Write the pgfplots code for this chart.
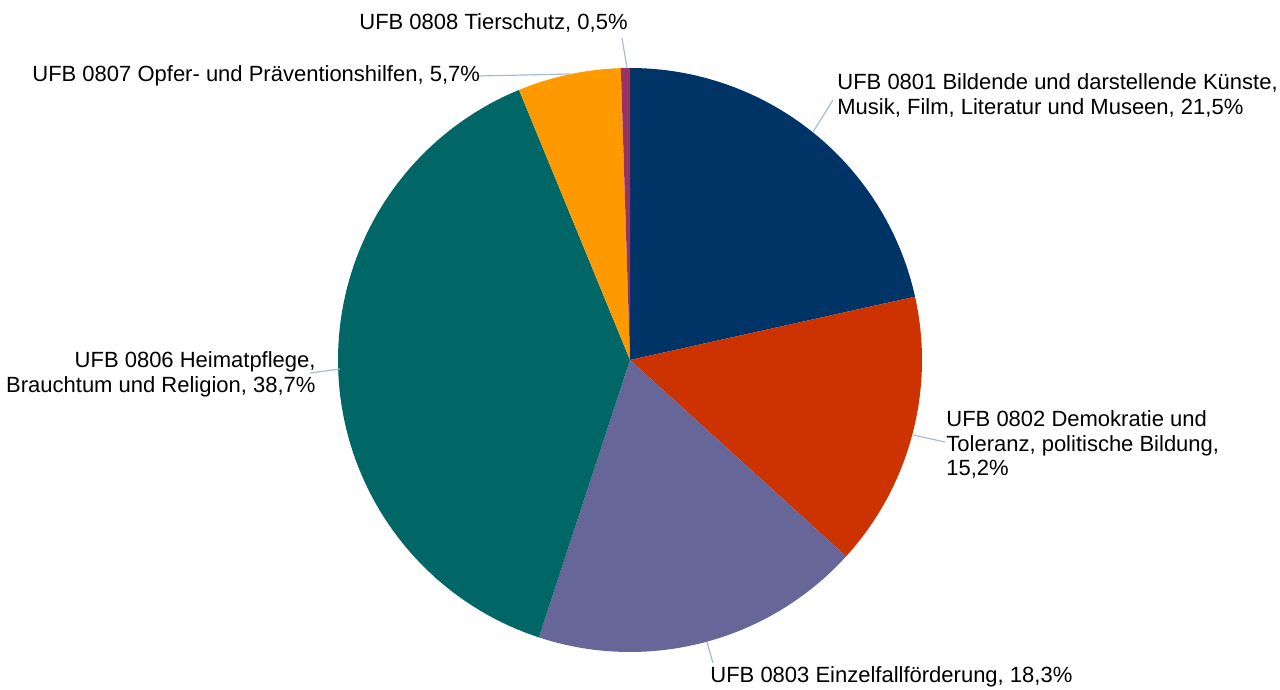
\documentclass[border=0pt]{standalone}
\usepackage{fontspec}
\setmainfont{Liberation Sans}
\usepackage{pgfplots}
\pgfplotsset{compat=1.18}
\definecolor{cA}{HTML}{003366}
\definecolor{cB}{HTML}{CC3300}
\definecolor{cC}{HTML}{666699}
\definecolor{cD}{HTML}{006666}
\definecolor{cE}{HTML}{FF9900}
\definecolor{cF}{HTML}{993366}
\definecolor{lead}{RGB}{170,186,208}
% shares in percent (cumulative boundaries)
\def\total{99.9}
\newcommand\slice[3]{%
  \pgfmathsetmacro\k{360/\total}%
  \pgfmathsetmacro\aA{90-\k*#2}%
  \pgfmathsetmacro\aB{90-\k*#3}%
  \addplot[fill=#1, draw=none, domain=\aB:\aA, samples=90, variable=\t]
    ({630+292*cos(\t)},{330+292*sin(\t)}) -- (axis cs:630,330) -- cycle;
}
\begin{document}
\begin{tikzpicture}[lbl/.style={font=\fontsize{11}{13}\selectfont, inner sep=0pt, text=black}]
\useasboundingbox (0,0) rectangle (640pt,345pt);
\begin{axis}[width=640pt, height=345pt, scale only axis,
  xmin=0, xmax=1280, ymin=0, ymax=690, hide axis, clip=false]
\slice{cA}{0}{21.5}
\slice{cB}{21.5}{36.7}
\slice{cC}{36.7}{55.0}
\slice{cD}{55.0}{93.7}
\slice{cE}{93.7}{99.4}
\slice{cF}{99.4}{99.9}
% leader lines
\draw[lead, line width=0.6pt] (axis cs:627,622) -- (axis cs:622,652);
\draw[lead, line width=0.6pt] (axis cs:570,616) -- (axis cs:478,614);
\draw[lead, line width=0.6pt] (axis cs:813,558) -- (axis cs:833,590);
\draw[lead, line width=0.6pt] (axis cs:913,255) -- (axis cs:945,248);
\draw[lead, line width=0.6pt] (axis cs:707,48) -- (axis cs:713,27);
\draw[lead, line width=0.6pt] (axis cs:340,321) -- (axis cs:310,317);
% labels
\node[lbl, anchor=base west] at (axis cs:359,660) {UFB 0808 Tierschutz, 0,5\%};
\node[lbl, anchor=base west] at (axis cs:32,608) {UFB 0807 Opfer- und Präventionshilfen, 5,7\%};
\node[lbl, anchor=base west] at (axis cs:837,600) {UFB 0801 Bildende und darstellende Künste,};
\node[lbl, anchor=base west] at (axis cs:837,575) {Musik, Film, Literatur und Museen, 21,5\%};
\node[lbl, anchor=base west] at (axis cs:946,263) {UFB 0802 Demokratie und};
\node[lbl, anchor=base west] at (axis cs:946,238.5) {Toleranz, politische Bildung,};
\node[lbl, anchor=base west] at (axis cs:946,214) {15,2\%};
\node[lbl, anchor=base west] at (axis cs:710,7) {UFB 0803 Einzelfallförderung, 18,3\%};
\node[lbl, anchor=base east] at (axis cs:316,322) {UFB 0806 Heimatpflege,};
\node[lbl, anchor=base east] at (axis cs:316,297) {Brauchtum und Religion, 38,7\%};
\end{axis}
\end{tikzpicture}
\end{document}
